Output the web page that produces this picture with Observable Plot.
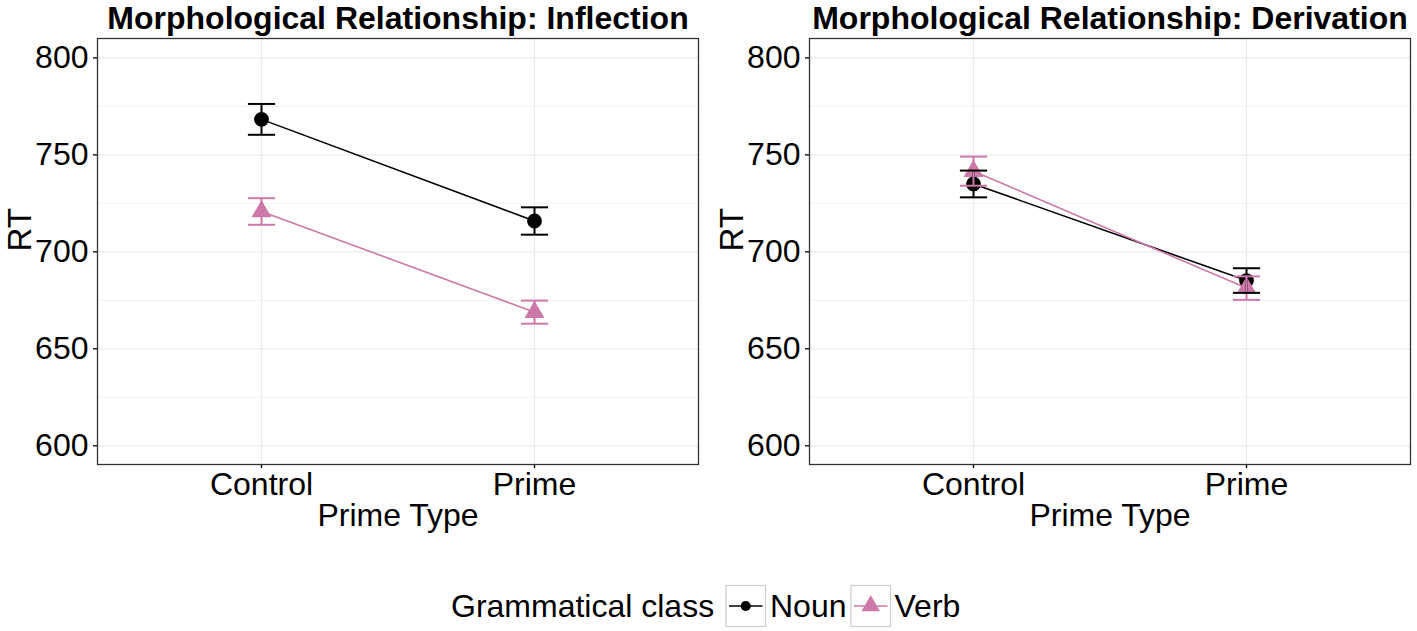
<!DOCTYPE html>
<html>
<head>
<meta charset="utf-8">
<script src="https://cdn.jsdelivr.net/npm/d3@7"></script>
<script src="https://cdn.jsdelivr.net/npm/@observablehq/plot@0.6"></script>
<style>
  html, body { margin: 0; padding: 0; background: white; }
  #root { position: relative; width: 1417px; height: 631px; background: white; overflow: hidden;
          font-family: "Liberation Sans", Arial, Helvetica, sans-serif; }
  #root svg { position: absolute; overflow: visible; }
</style>
</head>
<body>
<div id="root"></div>
<script>
// ---- data ----
const primeTypes = ["Control", "Prime"];
const classes = ["Noun", "Verb"];
const classColors = ["#000000", "#CC79A7"];
const classSymbols = ["circle", "triangle"];
const panelTitles = ["Morphological Relationship: Inflection", "Morphological Relationship: Derivation"];
const inflectionNounRT = [768.3, 715.9];
const inflectionNounErr = [7.95, 7.05];
const inflectionVerbRT = [720.8, 668.9];
const inflectionVerbErr = [6.85, 5.95];
const derivationNounRT = [735.0, 685.2];
const derivationNounErr = [6.9, 6.35];
const derivationVerbRT = [741.6, 681.3];
const derivationVerbErr = [7.5, 6.05];
const yTicks = [600, 650, 700, 750, 800];
const yMinorTicks = [625, 675, 725, 775];
const yDomain = [590.35, 810];
const xLabel = "Prime Type";
const yLabel = "RT";
const legendTitle = "Grammatical class";

function buildRows(nounRT, nounErr, verbRT, verbErr) {
  const rows = [];
  primeTypes.forEach((p, i) => rows.push({prime: p, cls: "Noun", mean: nounRT[i], lo: nounRT[i] - nounErr[i], hi: nounRT[i] + nounErr[i]}));
  primeTypes.forEach((p, i) => rows.push({prime: p, cls: "Verb", mean: verbRT[i], lo: verbRT[i] - verbErr[i], hi: verbRT[i] + verbErr[i]}));
  return rows;
}

const capSymbol = {
  draw(context, size) {
    const w = 13.6;
    context.moveTo(-w, 0);
    context.lineTo(w, 0);
  }
};

function panel(rows, title) {
  return Plot.plot({
    width: 705, height: 540,
    marginLeft: 97, marginRight: 7, marginTop: 38, marginBottom: 76,
    style: {fontFamily: "Liberation Sans, Arial, Helvetica, sans-serif", background: "white", color: "black", overflow: "visible"},
    x: {type: "point", domain: primeTypes, padding: 0.6, label: null},
    y: {domain: yDomain, label: null},
    color: {domain: classes, range: classColors},
    symbol: {domain: classes, range: classSymbols},
    marks: [
      Plot.gridY(yMinorTicks, {stroke: "#ebebeb", strokeOpacity: 1, strokeWidth: 0.7}),
      Plot.gridY(yTicks, {stroke: "#ebebeb", strokeOpacity: 1, strokeWidth: 1.2}),
      Plot.gridX(primeTypes, {stroke: "#ebebeb", strokeOpacity: 1, strokeWidth: 1.2}),
      Plot.axisY(yTicks, {fontSize: 32, tickSize: 4, tickPadding: 5, label: null, strokeWidth: 1.3}),
      Plot.axisX({fontSize: 32, tickSize: 4, tickPadding: 4, label: null, strokeWidth: 1.3}),
      Plot.line(rows, {x: "prime", y: "mean", z: "cls", stroke: "cls", strokeWidth: 1.6}),
      Plot.dot(rows, {x: "prime", y: "mean", fill: "cls", symbol: "cls", r: 7.4, stroke: "none"}),
      Plot.ruleX(rows, {x: "prime", y1: "lo", y2: "hi", stroke: "cls", strokeWidth: 2}),
      Plot.dot(rows, {x: "prime", y: "lo", symbol: capSymbol, stroke: "cls", strokeWidth: 2, fill: "none"}),
      Plot.dot(rows, {x: "prime", y: "hi", symbol: capSymbol, stroke: "cls", strokeWidth: 2, fill: "none"}),
      Plot.frame({stroke: "#333", strokeWidth: 1.3}),
      Plot.text([title], {frameAnchor: "top", dy: -9.7, lineAnchor: "bottom", fontSize: 32, fontWeight: "bold", fill: "black"}),
      Plot.text([xLabel], {frameAnchor: "bottom", dy: 61.3, lineAnchor: "bottom", fontSize: 32, fill: "black"}),
      Plot.text([yLabel], {frameAnchor: "left", dx: -66.3, rotate: -90, lineAnchor: "bottom", fontSize: 33, fill: "black"})
    ]
  });
}

const root = document.getElementById("root");
const left = panel(buildRows(inflectionNounRT, inflectionNounErr, inflectionVerbRT, inflectionVerbErr), panelTitles[0]);
left.style.left = "0px"; left.style.top = "0px";
root.appendChild(left);
const right = panel(buildRows(derivationNounRT, derivationNounErr, derivationVerbRT, derivationVerbErr), panelTitles[1]);
right.style.left = "712px"; right.style.top = "0px";
root.appendChild(right);

// ---- legend ----
const lg = d3.create("svg").attr("width", 1417).attr("height", 61)
  .style("left", "0px").style("top", "570px")
  .style("font-family", "Liberation Sans, Arial, Helvetica, sans-serif");
lg.append("text").attr("x", 451).attr("y", 46.5).attr("font-size", 32).attr("fill", "black").text(legendTitle);
const keyX = [726, 851];
const textX = [770, 894.5];
classes.forEach((c, i) => {
  const g = lg.append("g").attr("transform", `translate(${keyX[i]},15.5)`);
  g.append("rect").attr("x", 0).attr("y", 0).attr("width", 39.5).attr("height", 41)
    .attr("fill", "white").attr("stroke", "#cccccc").attr("stroke-width", 1.2);
  g.append("line").attr("x1", 3).attr("x2", 36.5).attr("y1", 20.5).attr("y2", 20.5)
    .attr("stroke", classColors[i]).attr("stroke-width", 1.6);
  const sym = classSymbols[i] === "circle" ? d3.symbol(d3.symbolCircle, 80) : d3.symbol(d3.symbolTriangle, 150);
  g.append("path").attr("d", sym()).attr("transform", "translate(19.75,20.5)").attr("fill", classColors[i]);
  lg.append("text").attr("x", textX[i]).attr("y", 46.5).attr("font-size", 32).attr("fill", "black").text(c);
});
root.appendChild(lg.node());
</script>
</body>
</html>
